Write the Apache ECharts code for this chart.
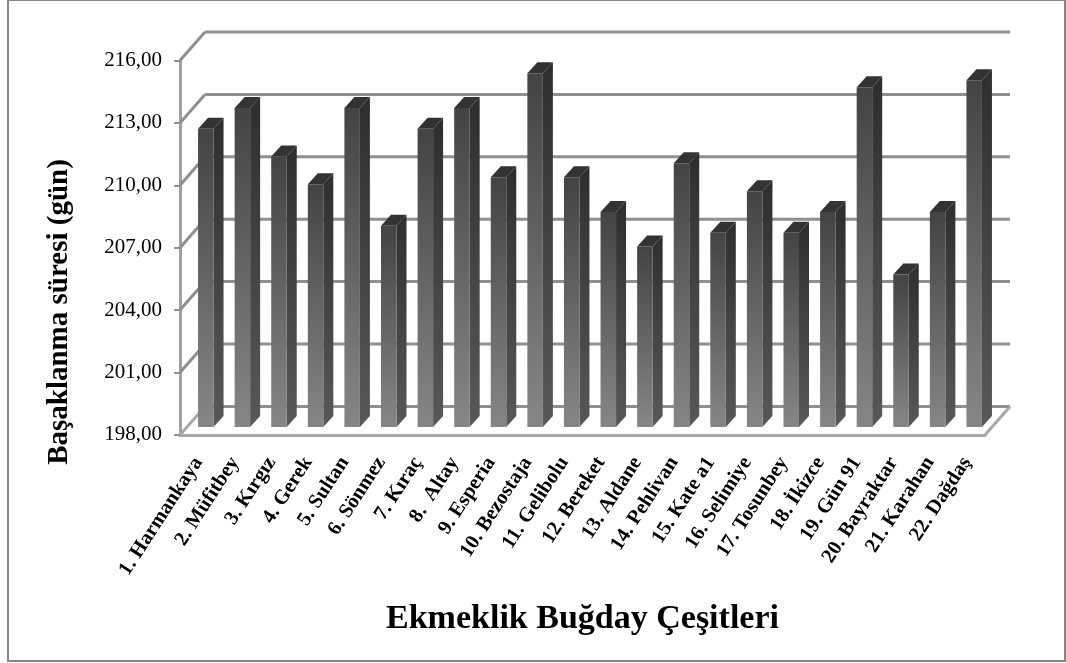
<!DOCTYPE html>
<html><head><meta charset="utf-8">
<script src="https://cdn.jsdelivr.net/npm/echarts@6/dist/echarts.min.js"></script>
<style>html,body{margin:0;padding:0;background:#fff}#c{width:1066px;height:663px}</style>
</head><body><div id="c"></div>
<script>
const categories = ['1. Harmankaya','2. Müfitbey','3. Kırgız','4. Gerek','5. Sultan','6. Sönmez','7. Kıraç','8.  Altay','9. Esperia','10. Bezostaja','11. Gelibolu','12. Bereket','13. Aldane','14. Pehlivan','15. Kate a1','16. Selimiye','17. Tosunbey','18. İkizce','19. Gün 91','20. Bayraktar','21. Karahan','22. Dağdaş'];
const values = [212.33,213.33,211.00,209.67,213.33,207.67,212.33,213.33,210.00,215.00,210.00,208.33,206.67,210.67,207.33,209.33,207.33,208.33,214.33,205.33,208.33,214.67];
const tickValues = [198,201,204,207,210,213,216];

const FONT = '"Liberation Serif","Times New Roman",serif';
const WALL_DX = 25, WALL_DY = -28.5;
const BAR_W = 15.5, BAR_OFF_X = 7.5, BAR_OFF_Y = -8, DEPTH_X = 10, DEPTH_Y = -11;
const vGrad = (a, b) => new echarts.graphic.LinearGradient(0, 0, 0, 1, [{offset:0,color:a},{offset:1,color:b}]);

function renderWall(params, api) {
  const v = api.value(1);
  const y = api.coord([0, v])[1];
  const x0 = params.coordSys.x, x1 = x0 + params.coordSys.width;
  const isFloor = v === tickValues[0];
  const color = isFloor ? '#a8a8a8' : '#8f8f8f';
  const style = {stroke: color, lineWidth: 3, fill: null};
  const children = [
    {type:'line', shape:{x1:x0, y1:y, x2:x0+WALL_DX, y2:y+WALL_DY}, style},
    {type:'line', shape:{x1:x0+WALL_DX, y1:y+WALL_DY, x2:x1+WALL_DX, y2:y+WALL_DY}, style:{...style, stroke:'#8f8f8f'}}
  ];
  if (isFloor) children.push({type:'line', shape:{x1:x1, y1:y, x2:x1+WALL_DX, y2:y+WALL_DY}, style});
  return {type:'group', children};
}

function renderBar(params, api) {
  const top = api.coord([api.value(0), api.value(1)]);
  const base = api.coord([api.value(0), tickValues[0]]);
  const xl = top[0] + BAR_OFF_X - BAR_W/2, xr = xl + BAR_W;
  const yt = top[1] + BAR_OFF_Y, yb = base[1] + BAR_OFF_Y;
  return {type:'group', children:[
    {type:'polygon', shape:{points:[[xr,yt],[xr+DEPTH_X,yt+DEPTH_Y],[xr+DEPTH_X,yb+DEPTH_Y],[xr,yb]]}, style:{fill:vGrad('#2e2e2e','#585858')}},
    {type:'polygon', shape:{points:[[xl,yt],[xl+DEPTH_X,yt+DEPTH_Y],[xr+DEPTH_X,yt+DEPTH_Y],[xr,yt]]}, style:{fill:'#333333'}},
    {type:'rect', shape:{x:xl, y:yt, width:BAR_W, height:yb-yt}, style:{fill:vGrad('#434343','#868686')}}
  ]};
}

const chart = echarts.init(document.getElementById('c'), null, {renderer:'canvas'});
chart.setOption({
  animation:false,
  backgroundColor:'#fff',
  graphic:[
    {type:'rect', silent:true, z:0, shape:{x:8,y:0,width:1057,height:661}, style:{fill:null, stroke:'#868686', lineWidth:2}},
    {type:'text', silent:true, z:5, x:60, y:312, rotation:Math.PI/2, style:{text:'Başaklanma süresi (gün)', x:0, y:0, align:'center', verticalAlign:'middle', fill:'#000', font:'bold 29px '+FONT}}
  ],
  grid:{left:180, right:81, top:60.5, height:374.4},
  xAxis:{
    type:'category', data:categories,
    axisLine:{lineStyle:{color:'#a8a8a8', width:3}},
    axisTick:{show:false},
    axisLabel:{interval:0, rotate:57, margin:24, color:'#000', fontFamily:FONT, fontWeight:'bold', fontSize:20.5},
    name:'Ekmeklik Buğday Çeşitleri', nameLocation:'middle', nameGap:167,
    nameTextStyle:{color:'#000', fontFamily:FONT, fontWeight:'bold', fontSize:34}
  },
  yAxis:{
    type:'value', min:198, max:216, interval:3,
    axisLine:{show:true, lineStyle:{color:'#a0a0a0', width:3}},
    axisTick:{show:true, length:6, lineStyle:{color:'#8f8f8f', width:2}},
    splitLine:{show:false},
    axisLabel:{margin:18, color:'#000', fontFamily:FONT, fontSize:21, formatter:v=>v.toFixed(2).replace('.',',')}
  },
  series:[
    {type:'custom', silent:true, z:1, renderItem:renderWall, encode:{x:0,y:1}, data:tickValues.map(v=>[0,v])},
    {type:'custom', silent:true, z:2, renderItem:renderBar, encode:{x:0,y:1}, data:values.map((v,i)=>[i,v])}
  ]
});
</script></body></html>
